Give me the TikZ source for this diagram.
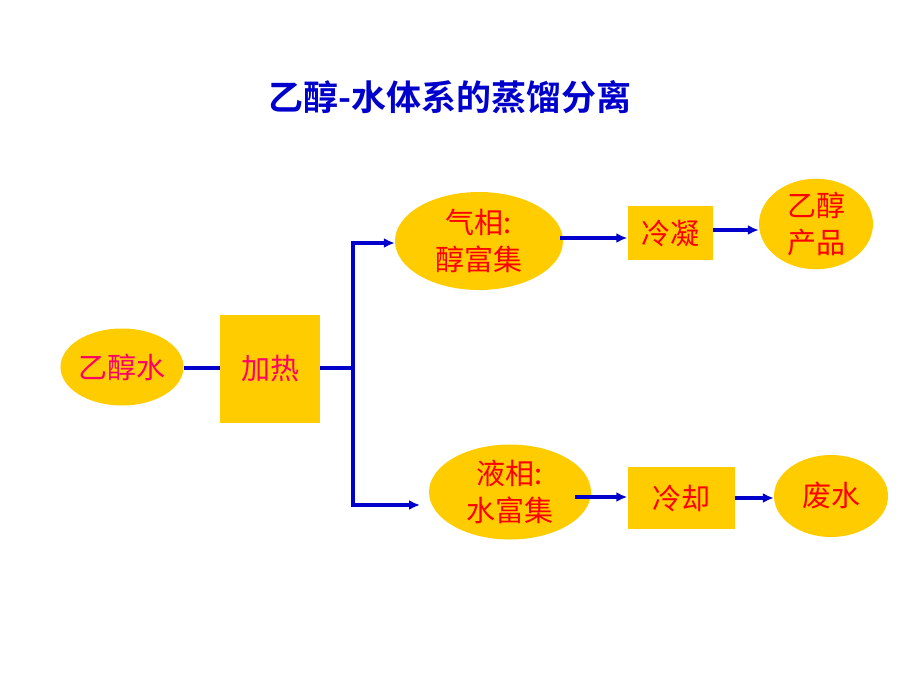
\documentclass[tikz,border=0pt]{standalone}
\usepackage{fontspec}
\newfontfamily\cjk{Noto Sans CJK SC}
\newfontfamily\cjkb{Noto Sans CJK SC}[BoldFont={* Bold}]
\usetikzlibrary{shapes.geometric,arrows.meta}
\definecolor{gold}{HTML}{FFCC00}
\definecolor{lineblue}{HTML}{0000CC}
\definecolor{mag}{HTML}{FF0066}
\definecolor{tred}{HTML}{FF0000}
\definecolor{tblue}{HTML}{0000CC}
\tikzset{
  oval/.style={ellipse,fill=gold,inner sep=0pt,align=center,font=\cjk\fontsize{29}{37}\selectfont,text=tred},
  boxnode/.style={rectangle,fill=gold,inner sep=0pt,align=center,font=\cjk\fontsize{29}{37}\selectfont,text=tred},
  conn/.style={draw=lineblue,line width=3.2pt},
  arr/.style={conn,-{Latex[length=11pt,width=10pt]}}
}
\begin{document}
\begin{tikzpicture}[x=1pt,y=-1pt]
\useasboundingbox (0,0) rectangle (920,690);
\node[font=\cjkb\bfseries\fontsize{35}{40}\selectfont,text=tblue] (title) at (450,97) {乙醇-水体系的蒸馏分离};
\node[oval,minimum width=123pt,minimum height=77pt,text=mag] (feed) at (122,367) {乙醇水};
\node[boxnode,minimum width=100pt,minimum height=108pt,text=mag] (heat) at (270,369) {加热};
\node[oval,minimum width=168pt,minimum height=98pt] (vap) at (479,241) {气相:\\醇富集};
\node[boxnode,minimum width=85pt,minimum height=54pt] (cond) at (670,233) {冷凝};
\node[oval,minimum width=114pt,minimum height=88pt] (prod) at (816,224) {乙醇\\产品};
\node[oval,minimum width=162pt,minimum height=95pt] (liq) at (510,492) {液相:\\水富集};
\node[boxnode,minimum width=107pt,minimum height=62pt] (cool) at (681,498) {冷却};
\node[oval,minimum width=114pt,minimum height=82pt] (waste) at (831,496) {废水};
\coordinate (split) at (353,368);
\draw[conn] (feed.east |- 0,368) -- (heat.west |- 0,368);
\draw[conn] (heat.east |- 0,368) -- (split);
\draw[arr] (split) -- (353,243) -- (vap.west |- 0,243);
\draw[arr] (split) -- (353,505) -- (420,505);
\draw[arr] (560,238) -- (cond.west |- 0,238);
\draw[arr] (cond.east |- 0,230) -- (prod.west |- 0,230);
\draw[arr] (575,497) -- (cool.west |- 0,497);
\draw[arr] (cool.east |- 0,498) -- (waste.west |- 0,498);
\end{tikzpicture}
\end{document}
